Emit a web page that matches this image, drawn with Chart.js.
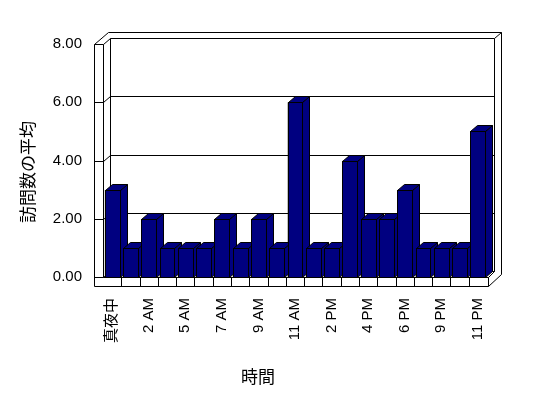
<!DOCTYPE html>
<html>
<head>
<meta charset="utf-8">
<script src="https://cdn.jsdelivr.net/npm/chart.js@4"></script>
<style>
  html, body { margin: 0; padding: 0; background: #fff; }
  #wrap { width: 548px; height: 398px; }
</style>
</head>
<body>
<div id="wrap"><canvas id="visitChart" width="548" height="398"></canvas></div>
<script>
// hours that had visits (every other one gets a label)
const hours = ['真夜中','1 AM','2 AM','3 AM','5 AM','6 AM','7 AM','8 AM','9 AM','10 AM',
               '11 AM','1 PM','2 PM','3 PM','4 PM','5 PM','6 PM','7 PM','9 PM','10 PM','11 PM'];
const avgVisits = [3,1,2,1,1,1,2,1,2,1,6,1,1,4,2,2,3,1,1,1,5];
const yTicks = [0, 2, 4, 6, 8];
const yTitle = '訪問数の平均';
const xTitle = '時間';

const NAVY = '#000080';
const DX = 7, DY = 6;   // depth of the 3d box
const LATIN = '"Liberation Sans", Arial, "Noto Sans CJK JP", sans-serif';
const CJK = '"Noto Sans CJK JP", sans-serif';

const px = v => Math.round(v) + 0.5;

function line(ctx, x1, y1, x2, y2) {
  ctx.beginPath();
  ctx.moveTo(x1, y1);
  ctx.lineTo(x2, y2);
  ctx.stroke();
}

const frame3d = {
  id: 'frame3d',
  beforeDatasetsDraw(chart) {
    const {ctx, chartArea: a, scales: {y}} = chart;
    const L = px(a.left), R = px(a.right), T = px(a.top), B = px(a.bottom);
    const slabL = L - 9, slabB = B + 9;
    const backR = R + 7, outR = R + 14;
    ctx.save();
    ctx.strokeStyle = '#000';
    ctx.lineWidth = 1;
    // left wall slab
    line(ctx, slabL, T, slabL, slabB);
    line(ctx, L, T, L, B);
    line(ctx, slabL, T, slabL + 14, T - 12);
    line(ctx, slabL + 14, T - 12, outR, T - 12);
    // back wall
    line(ctx, L + DX, T - DY, L + DX, B - DY);
    line(ctx, backR, T - DY, backR, B - DY);
    line(ctx, backR, T - DY, outR, T - 12);
    line(ctx, outR, T - 12, outR, B - 3);
    // floor slab
    line(ctx, L, B, R + 1, B);
    line(ctx, slabL, slabB, R + 1, slabB);
    line(ctx, R + 1, B, R + 1, slabB);
    line(ctx, R + 1, B, backR, B - DY);
    line(ctx, R + 1, slabB, outR, B - 3);
    line(ctx, L + DX, B - DY, backR, B - DY);
    // category dividers on the floor edge
    const xs = chart.scales.x;
    for (let i = 1; i < hours.length; i++) {
      const xv = px((xs.getPixelForValue(i - 1) + xs.getPixelForValue(i)) / 2);
      line(ctx, xv, B, xv, slabB);
    }
    // gridlines: tick on the slab, run over the side wall, across the back wall
    yTicks.forEach(v => {
      const yv = px(y.getPixelForValue(v));
      line(ctx, slabL, yv, L, yv);
      line(ctx, L, yv, L + DX, yv - DY);
      line(ctx, L + DX, yv - DY, backR, yv - DY);
    });
    ctx.restore();
  },
  afterDatasetsDraw(chart) {
    const {ctx} = chart;
    const meta = chart.getDatasetMeta(0);
    ctx.save();
    ctx.fillStyle = NAVY;
    ctx.strokeStyle = '#000';
    ctx.lineWidth = 1;
    meta.data.forEach(bar => {
      const l = px(bar.x - bar.width / 2), r = px(bar.x + bar.width / 2);
      const t = px(bar.y), b = px(bar.base);
      // side face
      ctx.beginPath();
      ctx.moveTo(r, t); ctx.lineTo(r + DX, t - DY); ctx.lineTo(r + DX, b - DY); ctx.lineTo(r, b);
      ctx.closePath(); ctx.fill(); ctx.stroke();
      // top face
      ctx.beginPath();
      ctx.moveTo(l, t); ctx.lineTo(l + DX, t - DY); ctx.lineTo(r + DX, t - DY); ctx.lineTo(r, t);
      ctx.closePath(); ctx.fill(); ctx.stroke();
      // front face
      ctx.fillRect(l, t, r - l, b - t);
      ctx.strokeRect(l, t, r - l, b - t);
    });
    ctx.restore();
  },
  afterDraw(chart) {
    const {ctx} = chart;
    ctx.save();
    ctx.fillStyle = '#000';
    ctx.font = '17px ' + CJK;
    ctx.textAlign = 'center';
    ctx.textBaseline = 'middle';
    ctx.fillText(xTitle, 258, 377);
    ctx.translate(28, 172);
    ctx.rotate(-Math.PI / 2);
    ctx.fillText(yTitle, 0, 0);
    ctx.restore();
  }
};

new Chart(document.getElementById('visitChart'), {
  type: 'bar',
  data: {
    labels: hours,
    datasets: [{
      label: yTitle,
      data: avgVisits,
      backgroundColor: NAVY,
      borderColor: '#000',
      borderWidth: 1,
      barPercentage: 0.82,
      categoryPercentage: 1
    }]
  },
  options: {
    responsive: false,
    animation: false,
    events: [],
    layout: { padding: { left: 0, right: 61, top: 44, bottom: 0 } },
    plugins: { legend: { display: false }, tooltip: { enabled: false } },
    scales: {
      x: {
        grid: { display: false, drawTicks: false },
        border: { display: false },
        afterFit: s => { s.height = 121; },
        ticks: {
          autoSkip: false,
          minRotation: 90,
          maxRotation: 90,
          padding: 21,
          color: '#000',
          font: { family: LATIN, size: 15 },
          callback: (v, i) => (i % 2 === 0 ? hours[i] : '')
        }
      },
      y: {
        min: 0,
        max: 8,
        grid: { display: false, drawTicks: false },
        border: { display: false },
        afterFit: s => { s.width = 103; },
        afterBuildTicks: s => { s.ticks = yTicks.map(v => ({ value: v })); },
        ticks: {
          padding: 21,
          color: '#000',
          font: { family: LATIN, size: 15 },
          callback: v => v.toFixed(2)
        }
      }
    }
  },
  plugins: [frame3d]
});
</script>
</body>
</html>
